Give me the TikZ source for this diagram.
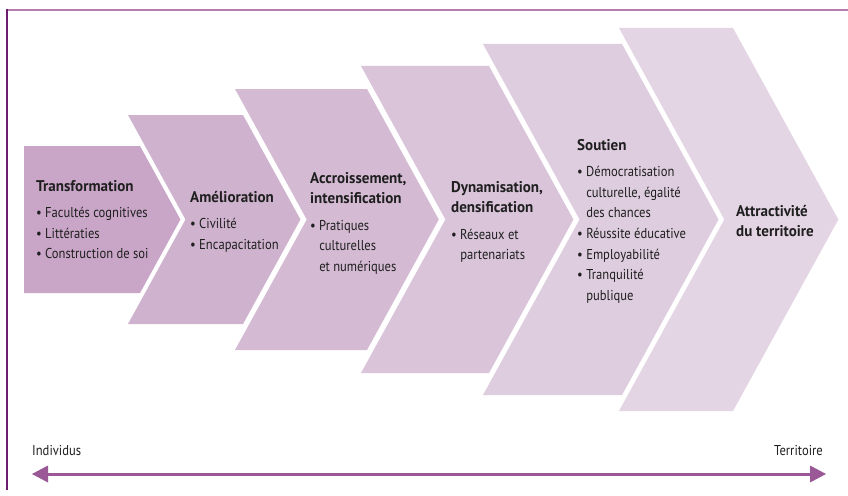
\documentclass[tikz,border=0pt]{standalone}
\usepackage{fontspec}
\setmainfont{PT Sans}[FakeStretch=0.88]
\newfontfamily\tfont{PT Sans}[FakeStretch=0.97]
\newcommand{\blk}[1]{\begin{tabular}[t]{@{}l@{}}#1\end{tabular}}
\newcommand{\ttlx}[1]{{\tfont\fontsize{15.5}{20.6}\selectfont\bfseries #1}}
\newcommand{\ind}{\phantom{• }}
\begin{document}
\begin{tikzpicture}[x=1pt,y=-1pt,
  lbl/.style={anchor=base west,inner sep=0pt,text=black!88,
    font=\fontsize{14.3}{20.6}\selectfont},
  axis/.style={line width=3pt,draw=arrowc}]
\definecolor{c1}{HTML}{C9A6C7}
\definecolor{c2}{HTML}{CFB3CE}
\definecolor{c3}{HTML}{D4BBD3}
\definecolor{c4}{HTML}{D9C4D9}
\definecolor{c5}{HTML}{DECDDE}
\definecolor{c6}{HTML}{E4D5E4}
\definecolor{framec}{HTML}{6E1E6E}
\definecolor{framet}{HTML}{B77DB0}
\definecolor{arrowc}{HTML}{9A5996}
\useasboundingbox (0,0) rectangle (848,495);
\fill[white] (0,0) rectangle (848,495);
% frame
\draw[framet,line width=2pt] (6,10) -- (848,10);
\draw[framec,line width=1.5pt] (7,9.5) -- (7,490);
% chevrons
\def\cy{219.5}
\def\s{0.55}
\fill[c1] (24,{\cy-73.5}) -- (140,{\cy-73.5}) -- ({140+\s*73.5},\cy) -- (140,{\cy+73.5}) -- (24,{\cy+73.5}) -- cycle;
\foreach \xl/\xr/\h/\col in {128/243/104.5/c2, 235/367/130.5/c3, 361/489/153.5/c4, 483/622/175.5/c5, 619/733/191.5/c6}{
  \fill[\col] (\xl,{\cy-\h}) -- (\xr,{\cy-\h}) -- ({\xr+\s*\h},\cy) -- (\xr,{\cy+\h}) -- (\xl,{\cy+\h}) -- ({\xl+\s*\h},\cy) -- cycle;
}
% texts
\node[lbl] (t1) at (36,191) {\blk{\ttlx{Transformation}\\[6pt]
  • Facultés cognitives\\ • Littératies\\ • Construction de soi}};
\node[lbl] (t2) at (190,202) {\blk{\ttlx{Amélioration}\\[6pt]
  • Civilité\\ • Encapacitation}};
\node[lbl] (t3) at (310,183) {\blk{\ttlx{Accroissement,}\\ \ttlx{intensification}\\[6pt]
  • Pratiques\\ \ind culturelles\\ \ind et numériques}};
\node[lbl] (t4) at (451,192) {\blk{\ttlx{Dynamisation,}\\ \ttlx{densification}\\[6pt]
  • Réseaux et\\ \ind partenariats}};
\node[lbl] (t5) at (577,150) {\blk{\ttlx{Soutien}\\[6pt]
  • Démocratisation\\ \ind culturelle, égalité\\ \ind des chances\\
  • Réussite éducative\\ • Employabilité\\ • Tranquilité\\ \ind publique}};
\node[lbl] (t6) at (736,216) {\blk{\ttlx{Attractivité}\\ \ttlx{du territoire}}};
% axis
\node[lbl] (ind) at (32,455) {Individus};
\node[lbl,anchor=base east] (ter) at (823,455) {Territoire};
\coordinate (al) at (32,474);
\coordinate (ar) at (826,474);
\draw[axis] (47,474) -- (811,474);
\fill[arrowc] (al) -- (48,465.5) -- (48,482.5) -- cycle;
\fill[arrowc] (ar) -- (810,465.5) -- (810,482.5) -- cycle;
\end{tikzpicture}
\end{document}
